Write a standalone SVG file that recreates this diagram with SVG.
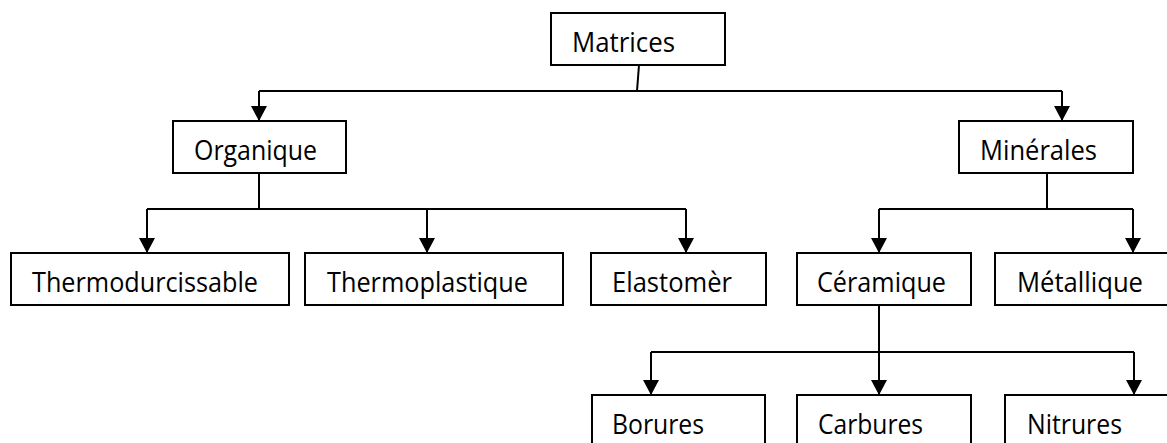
<svg xmlns="http://www.w3.org/2000/svg" width="1167" height="443" viewBox="0 0 1167 443">
<style>
.box{fill:#fff;stroke:#000;stroke-width:2}
.lbl{font-family:"Open Sans","Noto Sans","Liberation Sans",sans-serif;font-size:27px;fill:#000}
.ln{fill:none;stroke:#000;stroke-width:2}
</style>
<defs>
<marker id="ah" viewBox="0 0 15 16" refX="15" refY="8" markerWidth="15" markerHeight="16" markerUnits="userSpaceOnUse" orient="auto">
<path d="M0,0 L15,8 L0,16 z" fill="#000"/>
</marker>
</defs>
<rect width="1167" height="443" fill="#fff"/>
<g id="connectors">
<path class="ln" d="M639,65 L637,91"/>
<path class="ln" d="M259,91 L1062,91"/>
<path class="ln" d="M259,91 L259,121" marker-end="url(#ah)"/>
<path class="ln" d="M1062,91 L1062,121" marker-end="url(#ah)"/>
<path class="ln" d="M259,173 L259,209"/>
<path class="ln" d="M147,209 L686,209"/>
<path class="ln" d="M147,209 L147,253" marker-end="url(#ah)"/>
<path class="ln" d="M427,209 L427,253" marker-end="url(#ah)"/>
<path class="ln" d="M686,209 L686,253" marker-end="url(#ah)"/>
<path class="ln" d="M1047,173 L1047,209"/>
<path class="ln" d="M879,209 L1133,209"/>
<path class="ln" d="M879,209 L879,253" marker-end="url(#ah)"/>
<path class="ln" d="M1133,209 L1133,253" marker-end="url(#ah)"/>
<path class="ln" d="M879,305 L879,395" marker-end="url(#ah)"/>
<path class="ln" d="M651,352 L1134,352"/>
<path class="ln" d="M651,352 L651,395" marker-end="url(#ah)"/>
<path class="ln" d="M1134,352 L1134,395" marker-end="url(#ah)"/>
</g>
<g id="n-matrices"><rect class="box" x="551" y="13" width="174" height="52"/><text class="lbl" x="572" y="52" textLength="103" lengthAdjust="spacingAndGlyphs">Matrices</text></g>
<g id="n-organique"><rect class="box" x="173" y="121" width="173" height="52"/><text class="lbl" x="194" y="160" textLength="123" lengthAdjust="spacingAndGlyphs">Organique</text></g>
<g id="n-minerales"><rect class="box" x="959" y="121" width="174" height="52"/><text class="lbl" x="980" y="160" textLength="117" lengthAdjust="spacingAndGlyphs">Minérales</text></g>
<g id="n-thermodurcissable"><rect class="box" x="11" y="253" width="278" height="52"/><text class="lbl" x="32" y="292" textLength="226" lengthAdjust="spacingAndGlyphs">Thermodurcissable</text></g>
<g id="n-thermoplastique"><rect class="box" x="305" y="253" width="258" height="52"/><text class="lbl" x="327" y="292" textLength="201" lengthAdjust="spacingAndGlyphs">Thermoplastique</text></g>
<g id="n-elastomer"><rect class="box" x="591" y="253" width="175" height="52"/><text class="lbl" x="612" y="292" textLength="120" lengthAdjust="spacingAndGlyphs">Elastomèr</text></g>
<g id="n-ceramique"><rect class="box" x="797" y="253" width="174" height="52"/><text class="lbl" x="817" y="292" textLength="129" lengthAdjust="spacingAndGlyphs">Céramique</text></g>
<g id="n-metallique"><rect class="box" x="995" y="253" width="180" height="52"/><text class="lbl" x="1017" y="292" textLength="126" lengthAdjust="spacingAndGlyphs">Métallique</text></g>
<g id="n-borures"><rect class="box" x="592" y="395" width="173" height="52"/><text class="lbl" x="612" y="434" textLength="92" lengthAdjust="spacingAndGlyphs">Borures</text></g>
<g id="n-carbures"><rect class="box" x="797" y="395" width="174" height="52"/><text class="lbl" x="818" y="434" textLength="105" lengthAdjust="spacingAndGlyphs">Carbures</text></g>
<g id="n-nitrures"><rect class="box" x="1005" y="395" width="180" height="52"/><text class="lbl" x="1027" y="434" textLength="95" lengthAdjust="spacingAndGlyphs">Nitrures</text></g>
</svg>
